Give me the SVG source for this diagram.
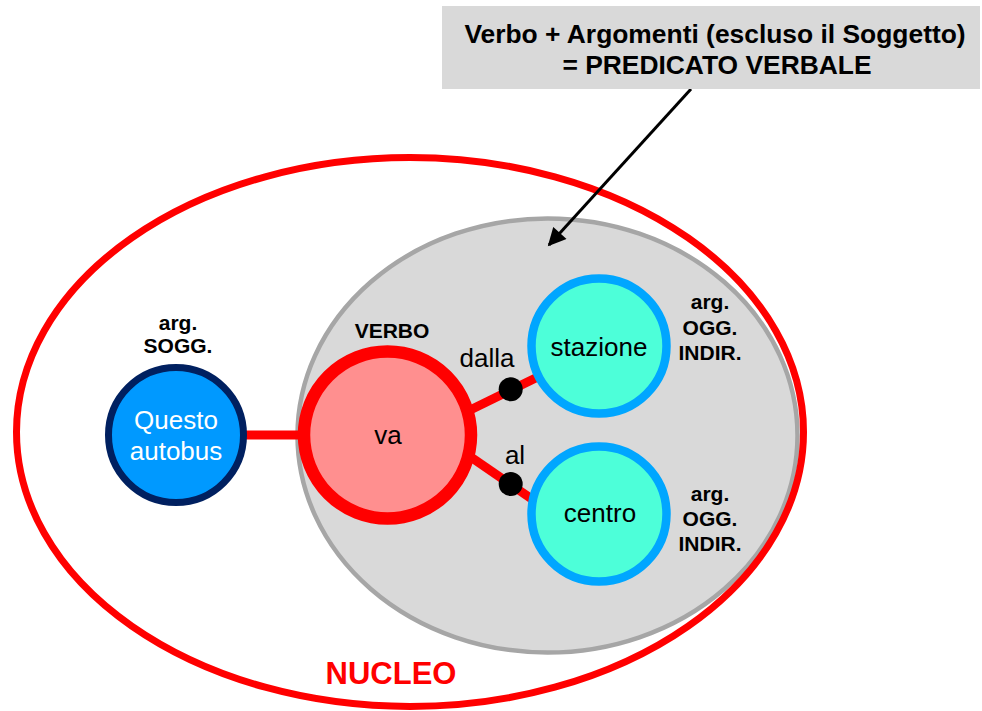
<svg xmlns="http://www.w3.org/2000/svg" width="982" height="711" viewBox="0 0 982 711">
<style>
.lbl{font-family:"Liberation Sans",Arial,sans-serif;font-weight:bold;font-size:21px;fill:#000;text-anchor:middle}
.reg{font-family:"Liberation Sans",Arial,sans-serif;font-size:26px;fill:#000;text-anchor:middle}
.title{font-family:"Liberation Sans",Arial,sans-serif;font-weight:bold;font-size:26.4px;fill:#000;text-anchor:middle}
.conn{stroke:#ff0000;stroke-width:9;fill:none}
.arg{fill:#4dffd9;stroke:#00a6ff;stroke-width:8.5}
</style>
<defs>
<marker id="ah" viewBox="0 0 10 10" refX="9" refY="5" markerWidth="6.5" markerHeight="6" markerUnits="strokeWidth" orient="auto">
<path d="M0,0 L10,5 L0,10 z" fill="#000"/>
</marker>
</defs>
<rect width="982" height="711" fill="#fff"/>
<g id="predicato">
<ellipse cx="547.5" cy="435.5" rx="250" ry="217" fill="#d9d9d9" stroke="#a6a6a6" stroke-width="4.5"/>
</g>
<g id="nucleo">
<ellipse cx="410" cy="432" rx="393.5" ry="274.5" fill="none" stroke="#ff0000" stroke-width="7"/>
<text x="391" y="684" font-family="Liberation Sans, Arial, sans-serif" font-weight="bold" font-size="31" fill="#ff0000" text-anchor="middle">NUCLEO</text>
</g>
<g id="connectors">
<line class="conn" x1="240" y1="435" x2="305" y2="435" stroke-width="10"/>
<line class="conn" x1="462" y1="414" x2="548" y2="372"/>
<line class="conn" x1="462" y1="451" x2="542" y2="506"/>
<circle cx="510.7" cy="389.3" r="12" fill="#000"/>
<circle cx="510.7" cy="484" r="12" fill="#000"/>
<text class="reg" x="487" y="367">dalla</text>
<text class="reg" x="515" y="464">al</text>
<line x1="691" y1="89" x2="549" y2="245" stroke="#000" stroke-width="3" marker-end="url(#ah)"/>
</g>
<g id="soggetto">
<circle cx="176" cy="435" r="67.5" fill="#0099ff" stroke="#002060" stroke-width="7"/>
<text class="reg" x="176" y="429" style="fill:#fff">Questo</text>
<text class="reg" x="176" y="460" style="fill:#fff">autobus</text>
<text class="lbl" x="178" y="330">arg.</text>
<text class="lbl" x="178" y="353">SOGG.</text>
</g>
<g id="verbo">
<circle cx="387.5" cy="435" r="83.5" fill="#ff8f8f" stroke="#ff0000" stroke-width="12.5"/>
<text class="reg" x="388" y="444">va</text>
<text class="lbl" x="392" y="338">VERBO</text>
</g>
<g id="stazione">
<circle class="arg" cx="599" cy="346" r="67.5"/>
<text class="reg" x="599" y="356">stazione</text>
<text class="lbl" x="710" y="309">arg.</text>
<text class="lbl" x="710" y="335">OGG.</text>
<text class="lbl" x="710" y="360">INDIR.</text>
</g>
<g id="centro">
<circle class="arg" cx="599" cy="514" r="67.5"/>
<text class="reg" x="600" y="522">centro</text>
<text class="lbl" x="710" y="501">arg.</text>
<text class="lbl" x="710" y="526">OGG.</text>
<text class="lbl" x="710" y="551">INDIR.</text>
</g>
<g id="titolo">
<rect x="442" y="6" width="538" height="83" fill="#d9d9d9"/>
<text class="title" x="715" y="43">Verbo + Argomenti (escluso il Soggetto)</text>
<text class="title" x="717" y="74">= PREDICATO VERBALE</text>
</g>
</svg>
